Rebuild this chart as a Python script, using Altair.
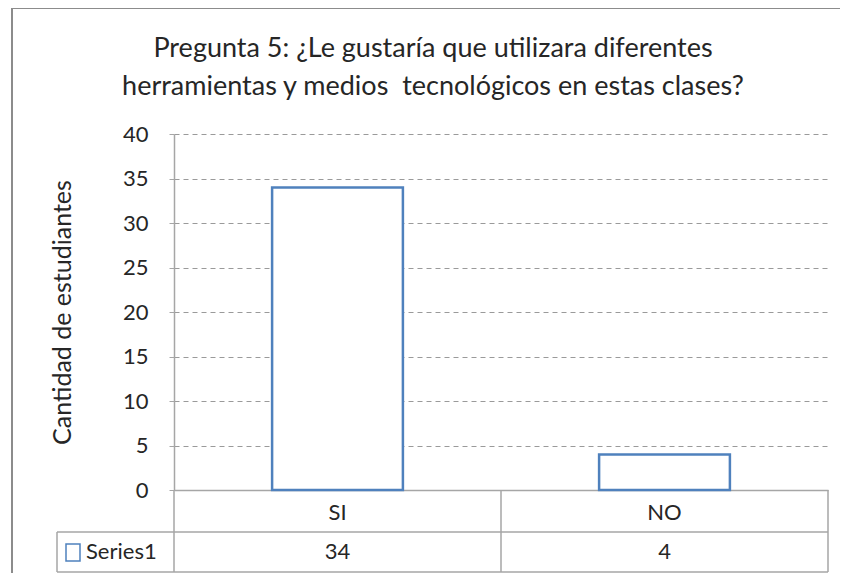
import altair as alt
import pandas as pd

categories = ["SI", "NO"]
values = [34, 4]
series_name = "Series1"
y_ticks = [0, 5, 10, 15, 20, 25, 30, 35, 40]
title_lines = ["Pregunta 5: ¿Le gustaría que utilizara diferentes",
               "herramientas y medios\u00a0 tecnológicos en estas clases?"]
y_title = "Cantidad de estudiantes"

FONT = "Lato"
TXT = "#262626"
LINE = "#a6a6a6"
BLUE = "#4F81BD"

W, H = 654, 356

df = pd.DataFrame({"cat": categories, "val": values})
one = pd.DataFrame({"a": [0]})

xenc = alt.X("cat:N", sort=categories,
             scale=alt.Scale(paddingInner=0, paddingOuter=0),
             axis=alt.Axis(title=None, labelFont=FONT, labelFontSize=22, labelColor=TXT,
                           labelPadding=12, ticks=False, domainColor=LINE, domainWidth=1.5,
                           labelAngle=0))
yenc = alt.Y("val:Q", scale=alt.Scale(domain=[0, 40], nice=False),
             axis=alt.Axis(title=y_title, values=y_ticks, labelFont=FONT, labelFontSize=22,
                           labelColor=TXT, labelPadding=21, tickSize=5, tickColor=LINE,
                           domainColor=LINE, domainWidth=1.5, grid=True, gridColor="#9a9a9a",
                           gridDash=[5, 4], gridWidth=1, titleFont=FONT, titleFontSize=25,
                           titleFontWeight="normal", titleColor=TXT, titleX=-112, titleY=H / 2,
                           titleAngle=270, titleBaseline="middle", titleAlign="center"))

bars = alt.Chart(df).mark_bar(fill="white", stroke=BLUE, strokeWidth=2.5,
                              width=alt.RelativeBandSize(0.4)).encode(x=xenc, y=yenc)

vals = alt.Chart(df).mark_text(font=FONT, fontSize=22, color=TXT, baseline="middle").encode(
    x=alt.X("cat:N", sort=categories), y=alt.value(418), text="val:Q")

def rule(x1, x2, y1, y2, color=LINE, w=1.5):
    return alt.Chart(one).mark_rule(color=color, strokeWidth=w).encode(
        x=alt.value(x1), x2=alt.value(x2), y=alt.value(y1), y2=alt.value(y2))

TL = -117
rules = [
    rule(TL, W, 398, 398),
    rule(TL, W, 438, 438),
    rule(0, 0, H, 438),
    rule(W / 2, W / 2, H, 438),
    rule(W, W, H, 438),
    rule(TL, TL, 398, 438),
    rule(-162, 666, -126, -126, "#8c8c8c", 2),
    rule(-162, -162, -126, 439, "#8c8c8c", 2),
]

key = alt.Chart(one).mark_rect(fill="white", stroke=BLUE, strokeWidth=1.5).encode(
    x=alt.value(-108), x2=alt.value(-94), y=alt.value(410), y2=alt.value(427))
sname = alt.Chart(pd.DataFrame({"s": [series_name]})).mark_text(
    font=FONT, fontSize=22, color=TXT, align="left", baseline="middle").encode(
    x=alt.value(-88), y=alt.value(418), text="s:N")

chart = alt.layer(bars, vals, *rules, key, sname).properties(
    width=W, height=H,
    autosize=alt.AutoSizeParams(type="none"),
    padding={"left": 166, "top": 126, "right": 12, "bottom": 83},
    title=alt.TitleParams(title_lines, font=FONT, fontSize=27, fontWeight="normal",
                          color=TXT, anchor="middle", frame="group", dx=-68, offset=-94,
                          lineHeight=38),
).configure_view(stroke=None)

chart.save("out.html", embed_options={"renderer": "svg", "actions": False})
